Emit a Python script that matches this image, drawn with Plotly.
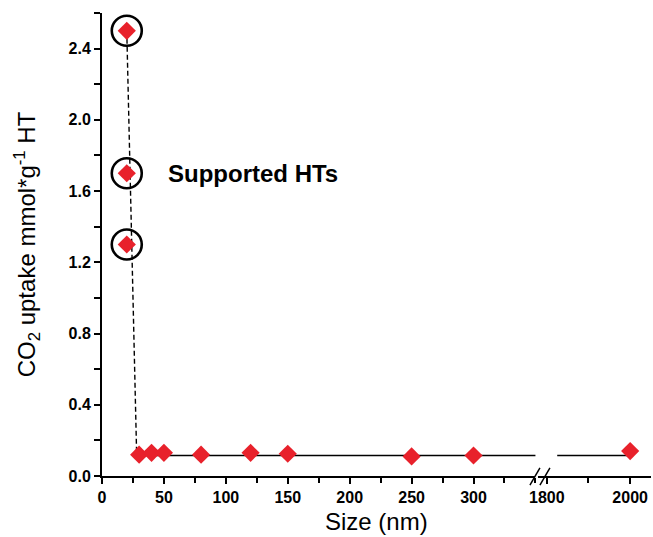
import plotly.graph_objects as go

# Data
size_nm = [20, 20, 20, 30, 40, 50, 80, 120, 150, 250, 300]
uptake = [2.5, 1.7, 1.3, 0.12, 0.13, 0.13, 0.12, 0.13, 0.125, 0.11, 0.115]
size_far = [2000]
uptake_far = [0.14]
supported_x = [20, 20, 20]
supported_y = [2.5, 1.7, 1.3]
dash_x = [20, 28]
dash_y = [2.5, 0.115]
level_x = [28, 2000]
level_y = [0.115, 0.115]
level_far_x = [1825, 2000]
level_far_y = [0.115, 0.115]
xticks1 = [0, 50, 100, 150, 200, 250, 300]
xticks2 = [1800, 2000]
yticks = [0.0, 0.4, 0.8, 1.2, 1.6, 2.0, 2.4]

RED = "#e8212b"
FONT = "Liberation Sans, Arial, sans-serif"

fig = go.Figure()
# guide lines
fig.add_trace(go.Scatter(x=dash_x, y=dash_y, mode="lines", xaxis="x", yaxis="y",
                         line=dict(color="black", width=1.4, dash="5px,3px"), showlegend=False))
fig.add_trace(go.Scatter(x=level_x, y=level_y, mode="lines", xaxis="x", yaxis="y",
                         line=dict(color="black", width=1.6), showlegend=False))
fig.add_trace(go.Scatter(x=level_far_x, y=level_far_y, mode="lines", xaxis="x2", yaxis="y2",
                         line=dict(color="black", width=1.6), showlegend=False))
# points
fig.add_trace(go.Scatter(x=size_nm, y=uptake, mode="markers", xaxis="x", yaxis="y",
                         marker=dict(symbol="diamond", size=14, color=RED, line=dict(width=0)),
                         showlegend=False, cliponaxis=False))
fig.add_trace(go.Scatter(x=size_far, y=uptake_far, mode="markers", xaxis="x2", yaxis="y2",
                         marker=dict(symbol="diamond", size=14, color=RED, line=dict(width=0)),
                         showlegend=False, cliponaxis=False))
fig.add_trace(go.Scatter(x=supported_x, y=supported_y, mode="markers", xaxis="x", yaxis="y",
                         marker=dict(symbol="circle-open", size=30, color="black", line=dict(width=2.6)),
                         showlegend=False, cliponaxis=False))

tickfont = dict(family=FONT, size=16, color="black", weight="bold")
common_x = dict(showgrid=False, zeroline=False, showline=True, linecolor="black", linewidth=2,
                ticks="outside", ticklen=6, tickwidth=1.5, tickcolor="black", tickfont=tickfont,
                automargin=False)

fig.update_layout(
    width=653, height=537,
    margin=dict(l=102, r=2, t=13, b=61),
    paper_bgcolor="white", plot_bgcolor="white",
    font=dict(family=FONT, color="black"),
    xaxis=dict(domain=[0, 0.7895], range=[0, 350], tickvals=xticks1, anchor="y",
               minor=dict(dtick=25, tick0=0, ticks="outside", ticklen=5, tickwidth=1.5, tickcolor="black"),
               **common_x),
    xaxis2=dict(domain=[0.795, 1], range=[1780, 2050], tickvals=xticks2, anchor="y2",
                minor=dict(dtick=100, tick0=1800, ticks="outside", ticklen=5, tickwidth=1.5, tickcolor="black"),
                **common_x),
    yaxis=dict(range=[0, 2.6], tickvals=yticks, tickformat=".1f", showgrid=False, zeroline=False,
               showline=True, linecolor="black", linewidth=2, ticks="outside", ticklen=6, tickwidth=1.5,
               tickcolor="black", tickfont=tickfont, automargin=False,
               minor=dict(dtick=0.2, tick0=0, ticks="outside", ticklen=6, tickwidth=1.5, tickcolor="black"),
               title=dict(text="CO<sub>2</sub> uptake mmol*g<sup>-1</sup> HT",
                          font=dict(family=FONT, size=24, color="black"), standoff=26)),
    yaxis2=dict(range=[0, 2.6], matches="y", anchor="x2", showgrid=False, zeroline=False,
                showline=False, showticklabels=False, ticks="", automargin=False),
    annotations=[
        dict(x=52, y=1.7, xref="x", yref="y", text="<b>Supported HTs</b>", showarrow=False,
             xanchor="left", yanchor="middle", font=dict(family=FONT, size=24, color="black")),
        dict(x=0.5, y=0, xref="paper", yref="paper", yshift=-61, text="Size (nm)", showarrow=False,
             xanchor="center", yanchor="bottom", font=dict(family=FONT, size=24, color="black")),
    ],
    shapes=[
        dict(type="line", xref="paper", yref="paper", x0=0.7795, x1=0.7977, y0=-0.0195, y1=0.0175,
             line=dict(color="black", width=1.5)),
        dict(type="line", xref="paper", yref="paper", x0=0.7977, x1=0.8159, y0=-0.0195, y1=0.0175,
             line=dict(color="black", width=1.5)),
    ],
)

fig.write_html("out.html", config={"displayModeBar": False},
               post_script="document.body.style.margin='0px';")
